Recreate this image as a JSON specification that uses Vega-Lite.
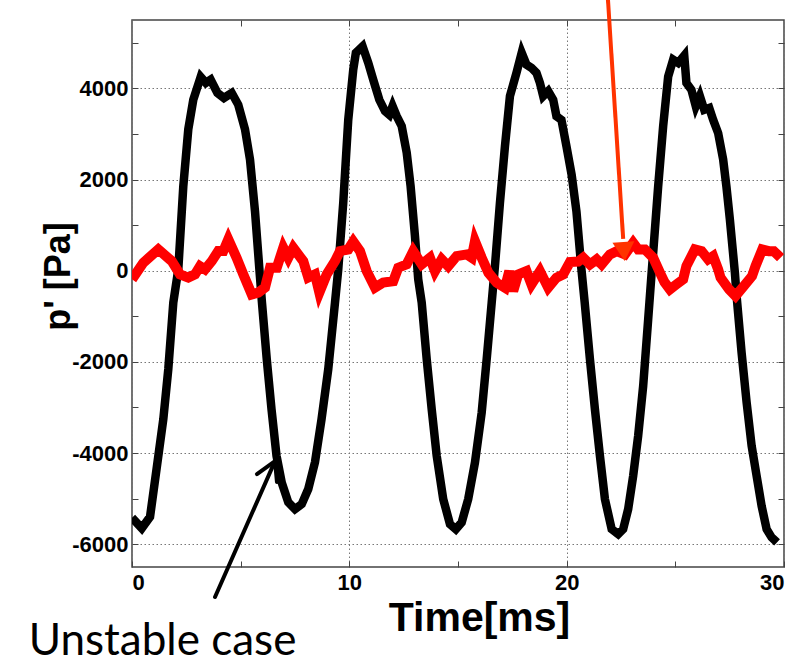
{
  "$schema": "https://vega.github.io/schema/vega-lite/v6.json",
  "width": 652,
  "height": 547,
  "autosize": "none",
  "padding": {"left": 132, "top": 20, "right": 26, "bottom": 97},
  "background": "white",
  "config": {
    "view": {"stroke": "#444", "strokeWidth": 1.5},
    "axis": {"domain": false}
  },
  "datasets": {
    "unstable": [
      {"t": 0.0, "p": -5420}, {"t": 0.45, "p": -5650}, {"t": 0.83, "p": -5400}, {"t": 1.13, "p": -4350},
      {"t": 1.44, "p": -3260}, {"t": 1.67, "p": -2160}, {"t": 1.90, "p": -700}, {"t": 2.13, "p": 30},
      {"t": 2.36, "p": 1850}, {"t": 2.59, "p": 3100}, {"t": 2.82, "p": 3750}, {"t": 3.16, "p": 4250},
      {"t": 3.40, "p": 4120}, {"t": 3.62, "p": 4190}, {"t": 3.93, "p": 3900}, {"t": 4.23, "p": 3790},
      {"t": 4.59, "p": 3900}, {"t": 4.89, "p": 3640}, {"t": 5.20, "p": 3100}, {"t": 5.43, "p": 2440},
      {"t": 5.66, "p": 1300}, {"t": 5.85, "p": 100}, {"t": 5.98, "p": -700}, {"t": 6.20, "p": -1940},
      {"t": 6.42, "p": -3040}, {"t": 6.65, "p": -4060}, {"t": 6.89, "p": -4650}, {"t": 7.19, "p": -5080},
      {"t": 7.50, "p": -5230}, {"t": 7.81, "p": -5120}, {"t": 8.11, "p": -4790}, {"t": 8.42, "p": -4200},
      {"t": 8.72, "p": -3260}, {"t": 9.03, "p": -2160}, {"t": 9.34, "p": -700}, {"t": 9.49, "p": 30},
      {"t": 9.72, "p": 1490}, {"t": 9.95, "p": 3310}, {"t": 10.18, "p": 4410}, {"t": 10.30, "p": 4780},
      {"t": 10.61, "p": 4920}, {"t": 10.87, "p": 4560}, {"t": 11.10, "p": 4190}, {"t": 11.38, "p": 3750},
      {"t": 11.64, "p": 3500}, {"t": 11.84, "p": 3420}, {"t": 11.99, "p": 3610}, {"t": 12.18, "p": 3390},
      {"t": 12.41, "p": 3170}, {"t": 12.64, "p": 2590}, {"t": 12.82, "p": 1850}, {"t": 13.02, "p": 760},
      {"t": 13.17, "p": -190}, {"t": 13.33, "p": -700}, {"t": 13.56, "p": -1940}, {"t": 13.79, "p": -3040},
      {"t": 14.02, "p": -4060}, {"t": 14.32, "p": -5010}, {"t": 14.63, "p": -5560}, {"t": 14.90, "p": -5670},
      {"t": 15.17, "p": -5520}, {"t": 15.47, "p": -5010}, {"t": 15.78, "p": -4210}, {"t": 16.09, "p": -3110},
      {"t": 16.32, "p": -1940}, {"t": 16.55, "p": -700}, {"t": 16.70, "p": 100}, {"t": 16.93, "p": 1490},
      {"t": 17.16, "p": 2730}, {"t": 17.39, "p": 3830}, {"t": 17.69, "p": 4340}, {"t": 17.93, "p": 4780},
      {"t": 18.15, "p": 4520}, {"t": 18.38, "p": 4450}, {"t": 18.61, "p": 4340}, {"t": 18.77, "p": 4120},
      {"t": 18.92, "p": 3830}, {"t": 19.15, "p": 3940}, {"t": 19.38, "p": 3750}, {"t": 19.53, "p": 3390},
      {"t": 19.76, "p": 3310}, {"t": 19.99, "p": 2730}, {"t": 20.23, "p": 2100}, {"t": 20.45, "p": 1300},
      {"t": 20.68, "p": 30}, {"t": 20.83, "p": -700}, {"t": 21.07, "p": -1940}, {"t": 21.30, "p": -3040},
      {"t": 21.53, "p": -4060}, {"t": 21.76, "p": -5010}, {"t": 22.07, "p": -5670}, {"t": 22.37, "p": -5780},
      {"t": 22.60, "p": -5670}, {"t": 22.83, "p": -5230}, {"t": 23.06, "p": -4500}, {"t": 23.29, "p": -3620},
      {"t": 23.52, "p": -2530}, {"t": 23.75, "p": -1070}, {"t": 23.91, "p": -40}, {"t": 23.98, "p": 390},
      {"t": 24.21, "p": 1850}, {"t": 24.44, "p": 3170}, {"t": 24.67, "p": 4260}, {"t": 24.90, "p": 4630},
      {"t": 25.13, "p": 4560}, {"t": 25.41, "p": 4720}, {"t": 25.51, "p": 4120}, {"t": 25.74, "p": 3970},
      {"t": 25.94, "p": 3610}, {"t": 26.13, "p": 3830}, {"t": 26.33, "p": 3530}, {"t": 26.56, "p": 3570},
      {"t": 26.74, "p": 3310}, {"t": 26.97, "p": 3020}, {"t": 27.20, "p": 2440}, {"t": 27.35, "p": 1850},
      {"t": 27.51, "p": 1120}, {"t": 27.74, "p": -40}, {"t": 27.82, "p": -560}, {"t": 28.05, "p": -1800},
      {"t": 28.28, "p": -2890}, {"t": 28.51, "p": -3840}, {"t": 28.74, "p": -4500}, {"t": 28.97, "p": -5160},
      {"t": 29.20, "p": -5670}, {"t": 29.43, "p": -5850}, {"t": 29.68, "p": -5960}
    ],
    "stable": [
      {"t": 0.0, "p": -190}, {"t": 0.52, "p": 175}, {"t": 1.21, "p": 467}, {"t": 1.83, "p": 210},
      {"t": 2.21, "p": -80}, {"t": 2.59, "p": -150}, {"t": 2.90, "p": -80}, {"t": 3.13, "p": 100},
      {"t": 3.36, "p": 30}, {"t": 3.67, "p": 210}, {"t": 3.97, "p": 430}, {"t": 4.20, "p": 430},
      {"t": 4.43, "p": 690}, {"t": 4.81, "p": 285}, {"t": 5.12, "p": -80}, {"t": 5.51, "p": -520},
      {"t": 5.81, "p": -480}, {"t": 6.12, "p": -370}, {"t": 6.35, "p": 66}, {"t": 6.66, "p": 66},
      {"t": 6.96, "p": 504}, {"t": 7.19, "p": 285}, {"t": 7.42, "p": 504}, {"t": 7.88, "p": 210},
      {"t": 8.11, "p": -150}, {"t": 8.42, "p": -80}, {"t": 8.62, "p": -480}, {"t": 8.96, "p": -80},
      {"t": 9.34, "p": 210}, {"t": 9.57, "p": 430}, {"t": 9.95, "p": 467}, {"t": 10.18, "p": 640},
      {"t": 10.49, "p": 430}, {"t": 10.80, "p": -10}, {"t": 11.18, "p": -370}, {"t": 11.56, "p": -260},
      {"t": 12.02, "p": -230}, {"t": 12.25, "p": 66}, {"t": 12.64, "p": 140}, {"t": 12.94, "p": 430},
      {"t": 13.33, "p": 140}, {"t": 13.71, "p": 285}, {"t": 13.94, "p": -10}, {"t": 14.25, "p": 250},
      {"t": 14.55, "p": 100}, {"t": 14.94, "p": 320}, {"t": 15.40, "p": 357}, {"t": 15.63, "p": 285},
      {"t": 15.78, "p": 648}, {"t": 16.09, "p": 285}, {"t": 16.40, "p": -44}, {"t": 16.78, "p": -263},
      {"t": 17.16, "p": -372}, {"t": 17.36, "p": -9}, {"t": 17.54, "p": -447}, {"t": 17.77, "p": -81},
      {"t": 18.15, "p": -9}, {"t": 18.38, "p": -300}, {"t": 18.77, "p": -9}, {"t": 19.15, "p": -372},
      {"t": 19.53, "p": -153}, {"t": 19.84, "p": -81}, {"t": 20.15, "p": 190}, {"t": 20.53, "p": 200},
      {"t": 20.76, "p": 285}, {"t": 21.07, "p": 138}, {"t": 21.38, "p": 248}, {"t": 21.61, "p": 138},
      {"t": 21.99, "p": 357}, {"t": 22.30, "p": 429}, {"t": 22.68, "p": 357}, {"t": 23.06, "p": 613},
      {"t": 23.29, "p": 467}, {"t": 23.60, "p": 467}, {"t": 23.98, "p": 285}, {"t": 24.30, "p": -50},
      {"t": 24.50, "p": -250}, {"t": 24.75, "p": -409}, {"t": 25.05, "p": -300}, {"t": 25.36, "p": -191},
      {"t": 25.51, "p": 101}, {"t": 25.90, "p": 467}, {"t": 26.21, "p": 429}, {"t": 26.51, "p": 248},
      {"t": 26.74, "p": 320}, {"t": 26.97, "p": 28}, {"t": 27.08, "p": -150}, {"t": 27.47, "p": -409},
      {"t": 27.77, "p": -556}, {"t": 28.15, "p": -337}, {"t": 28.53, "p": -118}, {"t": 28.69, "p": 101},
      {"t": 29.0, "p": 467}, {"t": 29.30, "p": 429}, {"t": 29.53, "p": 429}, {"t": 29.84, "p": 285}
    ],
    "blackArrow": [
      {"t": 3.82, "p": -7157, "t2": 6.58, "p2": -4177},
      {"t": 5.75, "p": -4462, "t2": 6.58, "p2": -4177},
      {"t": 6.67, "p": -4637, "t2": 6.58, "p2": -4177}
    ],
    "redArrow": [
      {"t": 21.9, "p": 5943, "t2": 22.6, "p2": 700}
    ],
    "redHead": [
      {"t": 22.64, "p": 420}
    ],
    "label": [
      {"t": -4.75, "p": -8420, "text": "Unstable case"}
    ]
  },
  "layer": [
    {
      "data": {"name": "unstable"},
      "mark": {"type": "line", "color": "black", "strokeWidth": 8.5, "strokeJoin": "miter", "clip": true},
      "encoding": {
        "x": {
          "field": "t", "type": "quantitative",
          "scale": {"domain": [0, 30], "nice": false, "zero": false},
          "axis": {
            "orient": "bottom",
            "values": [0, 5, 10, 15, 20, 25, 30],
            "labelExpr": "datum.value % 10 === 0 ? datum.label : ''",
            "labelFont": "Liberation Sans",
            "labelFontWeight": "bold", "labelFontSize": 22, "labelColor": "black",
            "labelPadding": 11, "tickSize": -6, "tickColor": "#444", "tickWidth": 1,
            "grid": true, "gridColor": "#777", "gridDash": [1.5, 2.5], "gridWidth": 1,
            "gridOpacity": {"condition": {"test": "datum.value % 10 === 0", "value": 1}, "value": 0},
            "title": "Time[ms]", "titleFont": "Liberation Sans",
            "titleFontWeight": "bold", "titleFontSize": 41, "titleColor": "black", "titlePadding": 5,
            "titleX": 347
          }
        },
        "y": {
          "field": "p", "type": "quantitative",
          "scale": {"domain": [-6500, 5500], "nice": false, "zero": false},
          "axis": {
            "orient": "left",
            "values": [-6000, -5000, -4000, -3000, -2000, -1000, 0, 1000, 2000, 3000, 4000, 5000],
            "labelExpr": "datum.value % 2000 === 0 ? datum.value + '' : ''",
            "labelFont": "Liberation Sans",
            "labelFontWeight": "bold", "labelFontSize": 22, "labelColor": "black",
            "labelPadding": 10, "tickSize": -6, "tickColor": "#444", "tickWidth": 1,
            "grid": true, "gridColor": "#777", "gridDash": [1.5, 2.5], "gridWidth": 1,
            "gridOpacity": {"condition": {"test": "datum.value % 2000 === 0", "value": 1}, "value": 0},
            "title": "p' [Pa]", "titleFont": "Liberation Sans",
            "titleFontWeight": "bold", "titleFontSize": 36, "titleColor": "black", "titlePadding": -6,
            "titleY": 256
          }
        }
      }
    },
    {
      "data": {"name": "stable"},
      "mark": {"type": "line", "color": "#ff0000", "strokeWidth": 10, "strokeJoin": "miter", "clip": true},
      "encoding": {
        "x": {
          "field": "t", "type": "quantitative",
          "axis": {"orient": "top", "values": [5, 10, 15, 20, 25], "labels": false, "grid": false,
                   "tickSize": -6, "tickColor": "#444", "title": null}
        },
        "y": {
          "field": "p", "type": "quantitative",
          "axis": {"orient": "right", "values": [-6000, -5000, -4000, -3000, -2000, -1000, 0, 1000, 2000, 3000, 4000, 5000],
                   "labels": false, "grid": false, "tickSize": -6, "tickColor": "#444", "title": null}
        }
      }
    },
    {
      "data": {"name": "blackArrow"},
      "mark": {"type": "rule", "color": "black", "strokeWidth": 4, "strokeCap": "round"},
      "encoding": {
        "x": {"field": "t", "type": "quantitative", "axis": null},
        "y": {"field": "p", "type": "quantitative", "axis": null},
        "x2": {"field": "t2"},
        "y2": {"field": "p2"}
      }
    },
    {
      "data": {"name": "redArrow"},
      "mark": {"type": "rule", "color": "#ff3300", "strokeWidth": 4},
      "encoding": {
        "x": {"field": "t", "type": "quantitative", "axis": null},
        "y": {"field": "p", "type": "quantitative", "axis": null},
        "x2": {"field": "t2"},
        "y2": {"field": "p2"}
      }
    },
    {
      "data": {"name": "redHead"},
      "mark": {"type": "point", "shape": "triangle-down", "filled": true, "color": "#ff3300", "opacity": 1, "size": 480, "angle": -4},
      "encoding": {
        "x": {"field": "t", "type": "quantitative", "axis": null},
        "y": {"field": "p", "type": "quantitative", "axis": null}
      }
    },
    {
      "data": {"name": "label"},
      "mark": {"type": "text", "align": "left", "baseline": "alphabetic", "font": "Lato, Open Sans, DejaVu Sans", "fontSize": 44, "color": "black"},
      "encoding": {
        "x": {"field": "t", "type": "quantitative", "axis": null},
        "y": {"field": "p", "type": "quantitative", "axis": null},
        "text": {"field": "text"}
      }
    }
  ],
  "resolve": {"axis": {"x": "independent", "y": "independent"}}
}
